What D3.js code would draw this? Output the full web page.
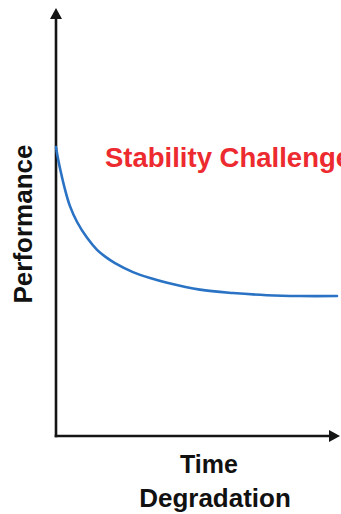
<!DOCTYPE html>
<html>
<head>
<meta charset="utf-8">
<script src="https://cdn.jsdelivr.net/npm/d3@7"></script>
<style>
  html, body { margin: 0; padding: 0; background: #fff; }
  svg { display: block; }
  text { font-family: "Liberation Sans", Arial, sans-serif; font-weight: bold; }
</style>
</head>
<body>
<svg id="chart" width="341" height="514"></svg>
<script>
// Data (schematic curve: performance over time)
const time        = [0, 0.8, 1.75, 3.2, 4.9, 7.4, 10.9, 14.4, 17.5, 20.7, 27.0, 33.0, 39.0, 50.5, 62.1, 74.0, 85.6, 98.6];
const performance = [67.5, 64.5, 61.5, 57.5, 53.7, 50.0, 46.3, 43.5, 41.8, 40.4, 38.3, 36.9, 35.8, 34.2, 33.4, 32.9, 32.7, 32.7];
const xLabels = ["Time", "Degradation"];
const yLabel = "Performance";
const annotation = "Stability Challenge";

const svg = d3.select("#chart");
const x = d3.scaleLinear().domain([0, 100]).range([56, 341]);
const y = d3.scaleLinear().domain([0, 100]).range([436, 8]);

const axisColor = "#151515";

// axes lines
svg.append("line")
  .attr("x1", x(0)).attr("x2", x(0))
  .attr("y1", y(0) + 1.3).attr("y2", y(97.5))
  .attr("stroke", axisColor).attr("stroke-width", 2.6);
svg.append("line")
  .attr("x1", x(0) - 1.3).attr("x2", x(97))
  .attr("y1", y(0)).attr("y2", y(0))
  .attr("stroke", axisColor).attr("stroke-width", 2.6);

// arrow heads
const yTip = [x(0), y(100)];
svg.append("path")
  .attr("d", `M${yTip[0]},${yTip[1]} L${yTip[0] - 6},${yTip[1] + 11} L${yTip[0] + 6},${yTip[1] + 11} Z`)
  .attr("fill", axisColor);
const xTip = [x(100) - 1, y(0)];
svg.append("path")
  .attr("d", `M${xTip[0]},${xTip[1]} L${xTip[0] - 11},${xTip[1] - 6} L${xTip[0] - 11},${xTip[1] + 6} Z`)
  .attr("fill", axisColor);

// curve
const line = d3.line()
  .x((d, i) => x(time[i]))
  .y(d => y(d))
  .curve(d3.curveCatmullRom.alpha(0.5));
svg.append("path")
  .datum(performance)
  .attr("d", line)
  .attr("fill", "none")
  .attr("stroke", "#2a72c4")
  .attr("stroke-width", 2.6)
  .attr("stroke-linecap", "round");

// annotation (the reference crops it at the right edge)
svg.append("text")
  .attr("x", 105).attr("y", 167)
  .attr("fill", "#ec2a2f")
  .attr("font-size", 27.5)
  .text(annotation);

// y label
svg.append("text")
  .attr("transform", "translate(32,224) rotate(-90)")
  .attr("text-anchor", "middle")
  .attr("fill", "#111")
  .attr("font-size", 26)
  .text(yLabel);

// x labels
svg.append("text")
  .attr("x", 209).attr("y", 473)
  .attr("text-anchor", "middle")
  .attr("fill", "#111")
  .attr("font-size", 25)
  .text(xLabels[0]);
svg.append("text")
  .attr("x", 215).attr("y", 507)
  .attr("text-anchor", "middle")
  .attr("fill", "#111")
  .attr("font-size", 26)
  .text(xLabels[1]);
</script>
</body>
</html>
